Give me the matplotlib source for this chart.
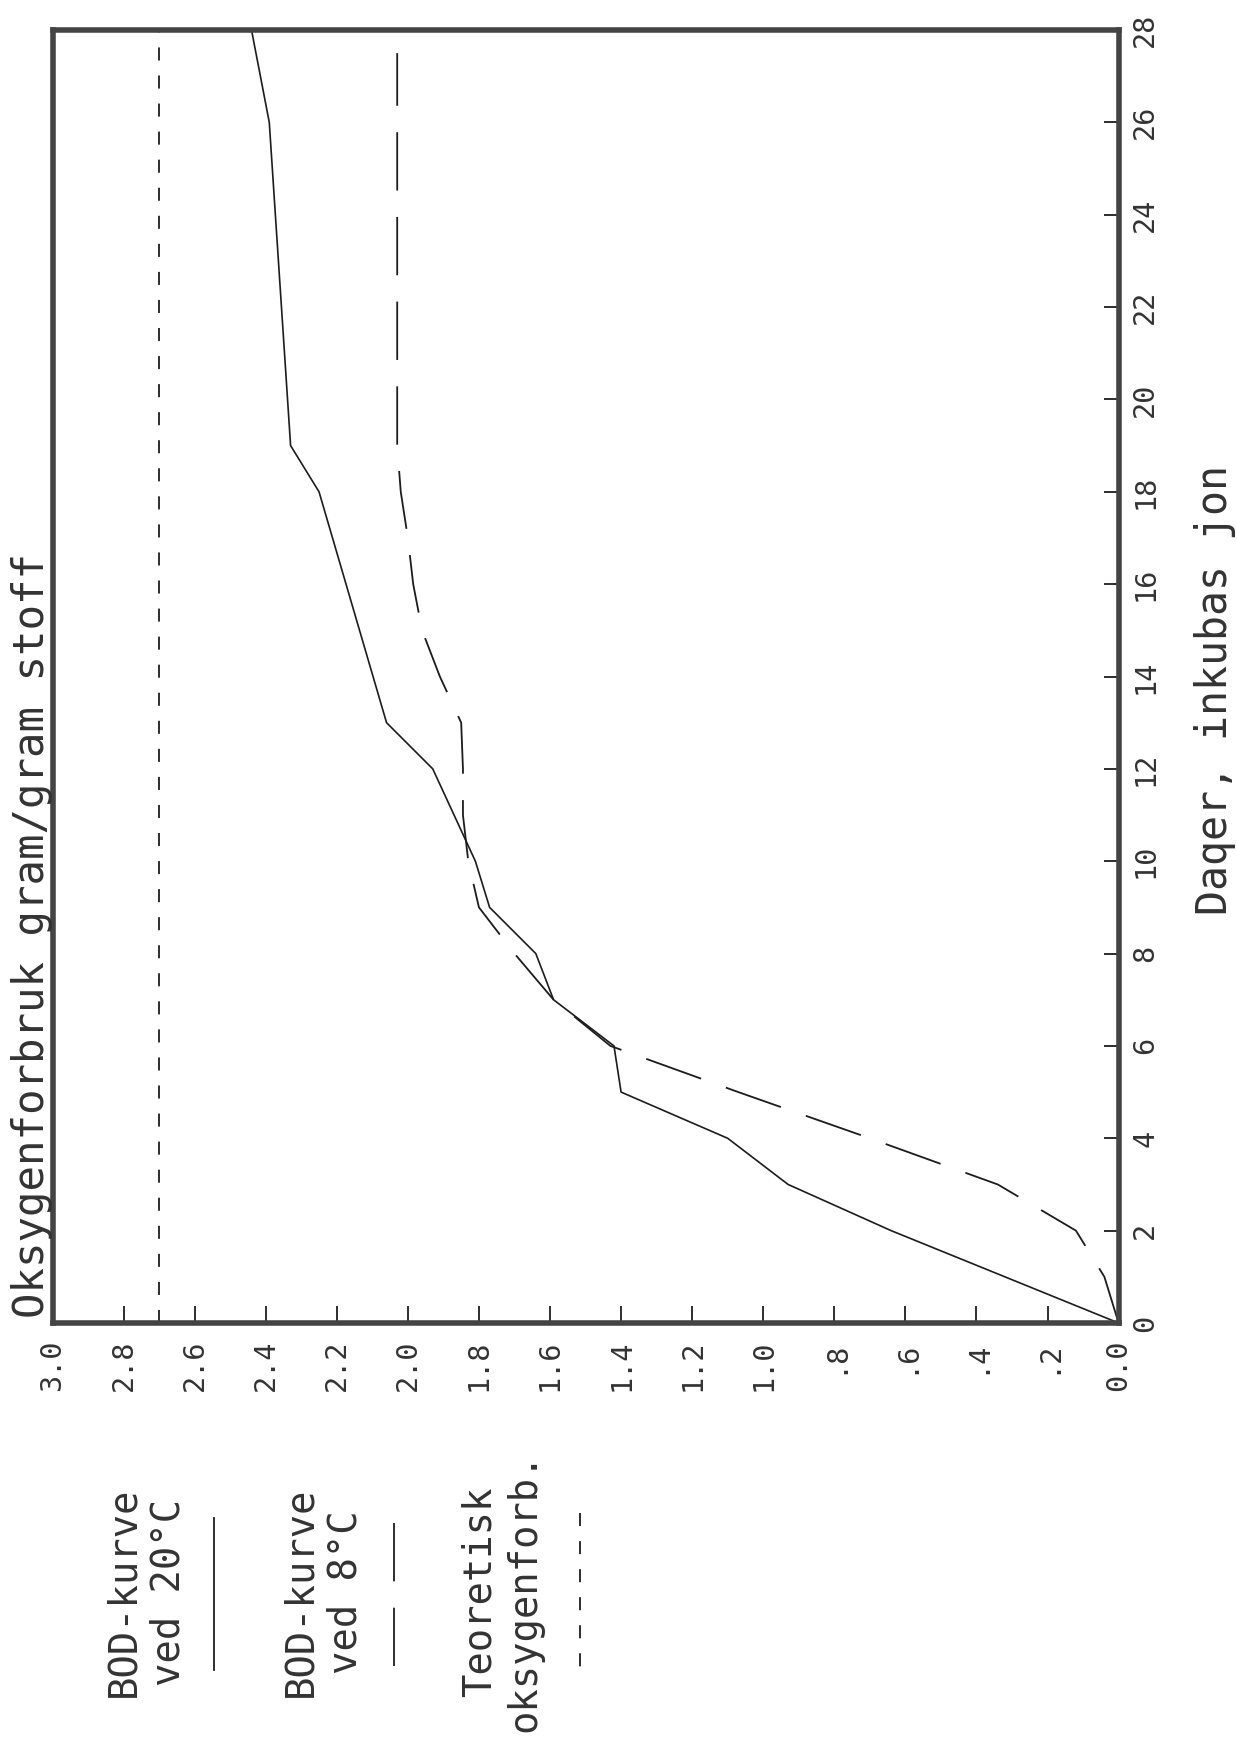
import matplotlib
matplotlib.use("Agg")
import matplotlib.pyplot as plt
from matplotlib.lines import Line2D

# data (days of incubation vs oxygen use, g/g)
days_20 = [0, 1, 2, 3, 4, 5, 6, 7, 8, 9, 10, 11, 12, 13, 18, 19, 26, 28]
oxy_20 = [0.0, 0.32, 0.64, 0.93, 1.10, 1.40, 1.42, 1.59, 1.64, 1.77, 1.81, 1.87, 1.93, 2.06, 2.25, 2.33, 2.39, 2.44]

days_8 = [0, 1, 2, 3, 4, 5, 6, 7, 8, 9, 10, 11, 12, 13, 14, 15, 16, 17, 18, 19, 27.5]
oxy_8 = [0.0, 0.04, 0.12, 0.34, 0.70, 1.07, 1.43, 1.59, 1.70, 1.80, 1.83, 1.845, 1.845, 1.85, 1.91, 1.96, 1.985, 2.0, 2.02, 2.03, 2.03]

days_teor = [0, 28]
oxy_teor = [2.7, 2.7]

oxy_ticks = [3.0, 2.8, 2.6, 2.4, 2.2, 2.0, 1.8, 1.6, 1.4, 1.2, 1.0, 0.8, 0.6, 0.4, 0.2, 0.0]
oxy_labels = ["3.0", "2.8", "2.6", "2.4", "2.2", "2.0", "1.8", "1.6", "1.4", "1.2", "1.0",
              ".8", ".6", ".4", ".2", "0.0"]
day_ticks = list(range(0, 29, 2))
day_labels = [str(d) for d in day_ticks]

plt.rcParams['lines.scale_dashes'] = False
font = "DejaVu Sans Mono"
ink = "#1c1c1c"
W, H = 1237, 1752

fig = plt.figure(figsize=(12.37, 17.52), dpi=100)
# the whole plot is turned 90 degrees: days run upwards, oxygen runs right to left
ax = fig.add_axes([52.5 / W, 1 - 1323 / H, (1118.6 - 52.5) / W, (1323 - 30) / H])

ax.plot(oxy_20, days_20, color=ink, lw=1.2)
ax.plot(oxy_8, days_8, color=ink, lw=1.3, dashes=(42, 19))
ax.plot(oxy_teor, days_teor, color=ink, lw=1.3, dashes=(9.4, 10.8))

ax.set_xlim(3.0, 0.0)
ax.set_ylim(0, 28)

ax.set_xticks(oxy_ticks)
ax.set_xticklabels(oxy_labels, rotation=90, fontfamily=font, fontsize=20.5, color="#333")
ax.yaxis.tick_right()
ax.set_yticks(day_ticks)
ax.set_yticklabels(day_labels, rotation=90, va="center", fontfamily=font, fontsize=20.5, color="#333")

ax.tick_params(axis="x", direction="in", length=12, width=1.3, pad=12, colors=ink, labelcolor="#333")
ax.tick_params(axis="y", direction="in", length=11, width=1.3, pad=9, colors=ink, labelcolor="#333")

for s in ax.spines.values():
    s.set_linewidth(4)
    s.set_color("#444")

# axis titles
fig.text(32 / W, 1 - 1318 / H, "Oksygenforbruk gram/gram stoff", rotation=90,
         ha="center", va="bottom", fontsize=30.5, family=font, color="#333")
fig.text(1215 / W, 1 - 690 / H, "Daqer, inkubas jon", rotation=90,
         ha="center", va="center", fontsize=30, family=font, color="#333")

# legend block under the plot
leg_txt = ["BOD-kurve\nved 20°C", "BOD-kurve\nved 8°C", "Teoretisk\noksygenforb."]
leg_x = [146, 323, 502]
for t, x in zip(leg_txt, leg_x):
    fig.text(x / W, 1 - 1592 / H, t, rotation=90, ha="center", va="center",
             multialignment="center", linespacing=1.25, fontsize=28, family=font, color="#333")

fig.add_artist(Line2D([214 / W] * 2, [1 - 1518 / H, 1 - 1670 / H], transform=fig.transFigure,
                      color=ink, lw=1.3))
fig.add_artist(Line2D([394 / W] * 2, [1 - 1523 / H, 1 - 1667 / H], transform=fig.transFigure,
                      color=ink, lw=1.3, dashes=(42, 19)))
fig.add_artist(Line2D([580 / W] * 2, [1 - 1513 / H, 1 - 1670 / H], transform=fig.transFigure,
                      color=ink, lw=1.3, dashes=(9.4, 10.8)))

fig.savefig("out.png", dpi=100, facecolor="white")
